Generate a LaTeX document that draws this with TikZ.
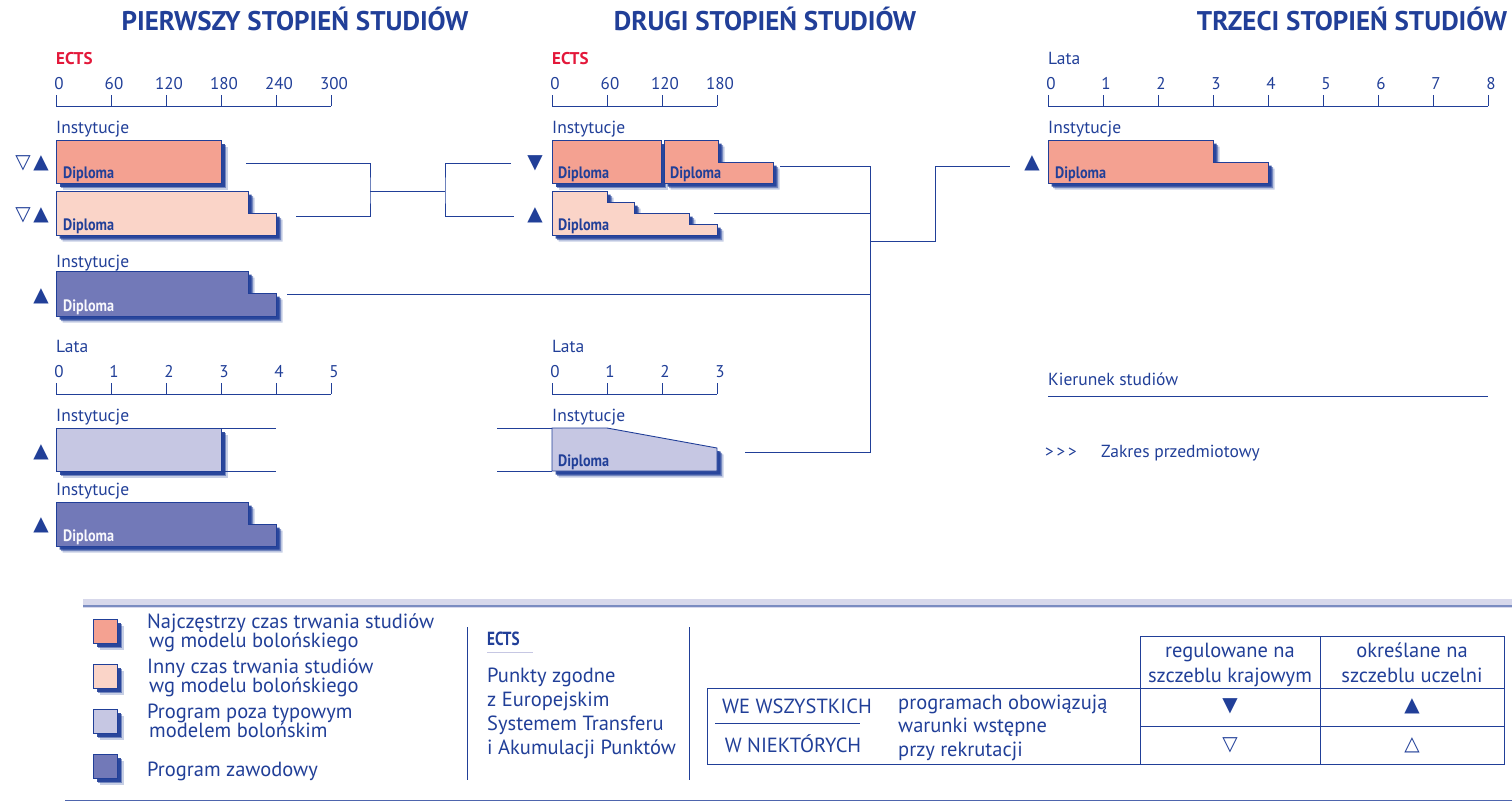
\documentclass[tikz,border=0pt]{standalone}
\usepackage{fontspec}
\usepackage{graphicx}
\setmainfont{PT Sans}
\newfontfamily\symfont{DejaVu Sans}
\usetikzlibrary{positioning,shadows}
\definecolor{dkblue}{HTML}{213F98}
\definecolor{ectsred}{HTML}{E3183A}
\definecolor{salmon}{HTML}{F4A191}
\definecolor{peach}{HTML}{FAD4C8}
\definecolor{lilac}{HTML}{C6C7E3}
\definecolor{violet}{HTML}{7279B8}
\tikzset{
    title/.style = {anchor=base, inner sep=0pt, text=dkblue, font=\bfseries\fontsize{27}{30}\selectfont},
    lbl/.style = {anchor=base west, inner sep=0pt, text=dkblue, font=\fontsize{17.5}{20}\selectfont},
    redlbl/.style = {anchor=base west, inner sep=0pt, text=ectsred, font=\bfseries\fontsize{17}{20}\selectfont},
    ticklbl/.style = {anchor=base, inner sep=0pt, text=dkblue, font=\fontsize{17}{20}\selectfont},
    axis/.style = {draw=dkblue, line width=0.9pt},
    bar/.style = {draw=dkblue, line width=0.9pt,
        general shadow={shadow xshift=6.5pt, shadow yshift=-6.5pt, fill=dkblue, opacity=.25},
        general shadow={shadow xshift=5pt, shadow yshift=-5pt, fill=dkblue, opacity=.5},
        general shadow={shadow xshift=3.5pt, shadow yshift=-3.5pt, fill=dkblue, opacity=.9}},
    dipl/.style = {anchor=base west, inner sep=0pt, text=dkblue, font=\bfseries\fontsize{16.5}{18}\selectfont},
    tri/.style = {inner sep=0pt, text=dkblue, font=\symfont\fontsize{20}{20}\selectfont},
    conn/.style = {draw=dkblue, line width=1pt},
    legtxt/.style = {anchor=base west, inner sep=0pt, text=dkblue, font=\fontsize{20.5}{21}\selectfont},
    tbltxt/.style = {anchor=base, inner sep=0pt, text=dkblue, font=\fontsize{20.5}{21}\selectfont},
    tbl/.style = {draw=dkblue, line width=0.9pt},
}
\newcommand{\dipl}[1][dkblue]{\textcolor{#1}{\scalebox{0.86}[1]{Diploma}}}

\begin{document}
\begin{tikzpicture}[x=1pt,y=-1pt]
\useasboundingbox (0,0) rectangle (1512,803);

% headings
\node[title] (t1) at (295,30) {PIERWSZY STOPIEŃ STUDIÓW};
\node[title] (t2) at (765,30) {DRUGI STOPIEŃ STUDIÓW};
\node[title] (t3) at (1352,30) {TRZECI STOPIEŃ STUDIÓW};

% ---- first cycle, ECTS
\node[redlbl] (e1) at (56,64) {ECTS};
\draw[axis] (56,106) -- (331,106);
\foreach \v [count=\i from 0] in {0,60,120,180,240,300} {
    \draw[axis] (56+55*\i,106) -- ++(0,-11);
    \node[ticklbl] (ea\i) at (59+55*\i,89) {\v};
}
\node[lbl] (in1) at (56,133) {Instytucje};
\path[bar, fill=salmon] (56,140) rectangle (221,183);
\node[dipl] (d1) at (63,178) {\dipl};
\node[tri] (q1a) at (23,163) {▽};
\node[tri] (q1b) at (41,163) {▲};
\path[bar, fill=peach] (56,191) -- (248,191) -- (248,213) -- (276,213) -- (276,235) -- (56,235) -- cycle;
\node[dipl] (d2) at (63,230) {\dipl};
\node[tri] (q2a) at (23,215) {▽};
\node[tri] (q2b) at (41,215) {▲};
\node[lbl] (in2) at (56,267) {Instytucje};
\path[bar, fill=violet] (56,271) -- (248,271) -- (248,293) -- (276,293) -- (276,316) -- (56,316) -- cycle;
\node[dipl] (d3) at (63,311) {\dipl[white!88!lilac]};
\node[tri] (q3) at (41,296) {▲};

% ---- first cycle, years
\node[lbl] (l1) at (56,352) {Lata};
\draw[axis] (56,394) -- (331,394);
\foreach \v in {0,...,5} {
    \draw[axis] (56+55*\v,394) -- ++(0,-11);
    \node[ticklbl] (la\v) at (59+55*\v,377) {\v};
}
\node[lbl] (in3) at (56,421) {Instytucje};
\path[bar, fill=lilac] (56,428) rectangle (221,471);
\draw[conn] (221,428) -- (276,428);
\draw[conn] (221,471) -- (276,471);
\node[tri] (q4) at (41,452) {▲};
\node[lbl] (in4) at (56,495) {Instytucje};
\path[bar, fill=violet] (56,502) -- (248,502) -- (248,524) -- (276,524) -- (276,546) -- (56,546) -- cycle;
\node[dipl] (d4) at (63,541) {\dipl[white!88!lilac]};
\node[tri] (q5) at (41,525) {▲};

% ---- second cycle, ECTS
\node[redlbl] (e2) at (552,64) {ECTS};
\draw[axis] (552,106) -- (717,106);
\foreach \v [count=\i from 0] in {0,60,120,180} {
    \draw[axis] (552+55*\i,106) -- ++(0,-11);
    \node[ticklbl] (eb\i) at (555+55*\i,89) {\v};
}
\node[lbl] (in5) at (552,133) {Instytucje};
\path[bar, fill=salmon] (552,140) rectangle (661,183);
\path[bar, fill=salmon] (664,140) -- (718,140) -- (718,162) -- (773,162) -- (773,183) -- (664,183) -- cycle;
\node[dipl] (d5) at (558,178) {\dipl};
\node[dipl] (d6) at (670,178) {\dipl};
\node[tri] (q6) at (535,163) {▼};
\path[bar, fill=peach] (552,191) -- (607,191) -- (607,202) -- (634,202) -- (634,213) -- (689,213)
    -- (689,224) -- (717,224) -- (717,235) -- (552,235) -- cycle;
\node[dipl] (d7) at (558,230) {\dipl};
\node[tri] (q7) at (535,215) {▲};

% ---- second cycle, years
\node[lbl] (l2) at (552,352) {Lata};
\draw[axis] (552,394) -- (717,394);
\foreach \v in {0,...,3} {
    \draw[axis] (552+55*\v,394) -- ++(0,-11);
    \node[ticklbl] (lb\v) at (555+55*\v,377) {\v};
}
\node[lbl] (in6) at (552,421) {Instytucje};
\draw[conn] (497,428) -- (552,428);
\draw[conn] (497,471) -- (552,471);
\path[bar, fill=lilac] (552,428) -- (607,428) -- (717,448) -- (717,471) -- (552,471) -- cycle;
\node[dipl] (d8) at (558,466) {\dipl};

% ---- third cycle
\node[lbl] (l3) at (1048,64) {Lata};
\draw[axis] (1048,106) -- (1488,106);
\foreach \v in {0,...,8} {
    \draw[axis] (1048+55*\v,106) -- ++(0,-11);
    \node[ticklbl] (lc\v) at (1051+55*\v,89) {\v};
}
\node[lbl] (in7) at (1048,133) {Instytucje};
\path[bar, fill=salmon] (1048,140) -- (1213,140) -- (1213,162) -- (1268,162) -- (1268,183) -- (1048,183) -- cycle;
\node[dipl] (d9) at (1055,178) {\dipl};
\node[tri] (q8) at (1032,163) {▲};

\node[lbl] (kier) at (1048,385) {Kierunek studiów};
\draw[dkblue, line width=1pt] (1048,396) -- (1488,396);
\node[lbl, font=\fontsize{17}{17}\selectfont] (gt) at (1045,457) {>\,>\,>};
\node[lbl, font=\fontsize{17.5}{18}\selectfont] (zak) at (1101,457) {Zakres przedmiotowy};

% ---- connectors
\coordinate (o1) at (246,163);
\coordinate (o2) at (296,216);
\coordinate (j1) at (370,191);
\coordinate (j2) at (445,191);
\coordinate (i1) at (511,163);
\coordinate (i2) at (514,216);
\draw[conn] (o1) -| (j1) |- (o2);
\draw[conn] (j1) -- (j2);
\draw[conn] (i1) -| (j2) |- (i2);

\coordinate (o3) at (780,166);
\coordinate (o4) at (714,213);
\coordinate (o5) at (287,294);
\coordinate (o6) at (745,452);
\coordinate (j3) at (870,241);
\coordinate (j4) at (935,241);
\coordinate (i3) at (1010,166);
\draw[conn] (o3) -| (j3) |- (o6);
\draw[conn] (o4) -- (o4 -| j3);
\draw[conn] (o5) -- (o5 -| j3);
\draw[conn] (j3) -- (j4) |- (i3);

% ---- legend
\fill[lilac!70] (83,599) rectangle (1512,608);
\draw[dkblue!60, line width=1.5pt] (83,606) -- (1512,606);
\draw[dkblue!80, line width=0.8pt] (65,800) -- (1512,800);

\path[bar, fill=salmon] (93,619) rectangle (117,643);
\path[bar, fill=peach] (93,664) rectangle (117,688);
\path[bar, fill=lilac] (93,709) rectangle (117,733);
\path[bar, fill=violet] (93,754) rectangle (117,778);
\node[legtxt] (k1) at (147,628) {Najczęstrzy czas trwania studiów};
\node[legtxt] (k1b) at (149,647) {wg modelu bolońskiego};
\node[legtxt] (k2) at (147,673) {Inny czas trwania studiów};
\node[legtxt] (k2b) at (149,692) {wg modelu bolońskiego};
\node[legtxt] (k3) at (147,718) {Program poza typowym};
\node[legtxt] (k3b) at (149,737) {modelem bolońskim};
\node[legtxt] (k4) at (147,776) {Program zawodowy};

\draw[tbl] (467,627) -- (467,780);
\node[anchor=base west, inner sep=0pt, text=dkblue, font=\bfseries\fontsize{19}{19}\selectfont] (ects) at (487,645) {\scalebox{0.8}[1]{ECTS}};
\draw[lilac, line width=1pt] (487,652) -- (533,652);
\node[legtxt] (p1) at (487,682) {Punkty zgodne};
\node[legtxt] (p2) at (487,706) {z Europejskim};
\node[legtxt] (p3) at (487,730) {Systemem Transferu};
\node[legtxt] (p4) at (487,754) {i Akumulacji Punktów};
\draw[tbl] (689,627) -- (689,780);

% ---- table
\draw[tbl] (707,688) rectangle (1504,764);
\draw[tbl] (1140,636) -- (1140,764);
\draw[tbl] (1320,636) -- (1320,764);
\draw[tbl] (1140,636) -- (1504,636) -- (1504,688);
\draw[tbl] (1140,726) -- (1504,726);
\draw[tbl, line width=0.7pt] (715,723) -- (860,723);
\node[tbltxt] (h1) at (1230,657) {regulowane na};
\node[tbltxt] (h1b) at (1230,682) {szczeblu krajowym};
\node[tbltxt] (h2) at (1412,657) {określane na};
\node[tbltxt] (h2b) at (1412,682) {szczeblu uczelni};
\node[tbltxt] (r1) at (797,713) {WE WSZYSTKICH};
\node[tbltxt] (r2) at (793,752) {W NIEKTÓRYCH};
\node[legtxt] (w1) at (898,709) {programach obowiązują};
\node[legtxt] (w2) at (898,732) {warunki wstępne};
\node[legtxt] (w3) at (898,756) {przy rekrutacji};
\node[tri] (s1) at (1230,706) {▼};
\node[tri] (s2) at (1412,706) {▲};
\node[tri] (s3) at (1230,745) {▽};
\node[tri] (s4) at (1412,745) {△};
\end{tikzpicture}
\end{document}
